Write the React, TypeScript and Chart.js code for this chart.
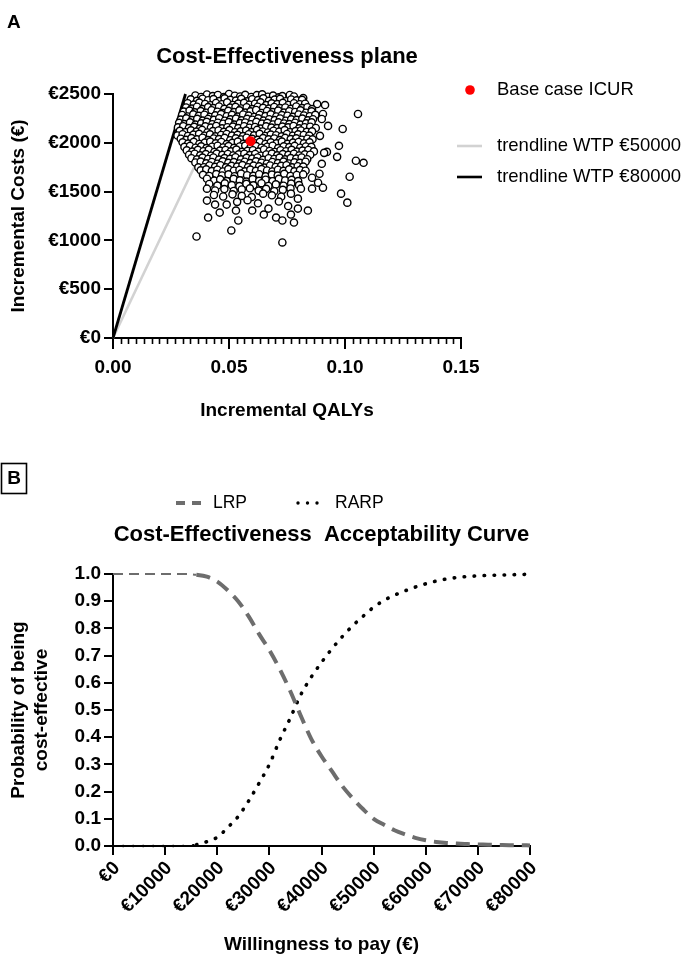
import React, { useEffect, useRef } from "react";
import { Chart, registerables } from "chart.js";

Chart.register(...registerables);

const FONT = "'Liberation Sans', Arial, Helvetica, sans-serif";

// ---------------- Panel A: cost-effectiveness plane ----------------
const qalyTicks = [0, 0.05, 0.1, 0.15];
const qalyMinorPerMajor = 15;
const costTicks = [0, 500, 1000, 1500, 2000, 2500];

const baseCaseQaly = [0.0593];
const baseCaseCost = [2015];

const wtp50kQaly = [0, 0.04];
const wtp50kCost = [0, 2000];
const wtp80kQaly = [0, 0.03125];
const wtp80kCost = [0, 2500];

// PSA iterations [incremental QALYs, incremental costs]
const psaSamples: [number, number][] = [
  [0.0355,2485],[0.038,2470],[0.0405,2495],[0.043,2478],[0.0452,2490],[0.0478,2468],[0.05,2500],[0.0525,2482],[0.0548,2475],[0.057,2492],[0.0596,2470],[0.062,2488],[0.0643,2497],[0.0668,2472],[0.069,2484],[0.0715,2466],[0.073,2478],[0.0762,2490],[0.078,2475],[0.082,2458],
  [0.0335,2445],[0.0362,2430],[0.0386,2452],[0.041,2436],[0.0433,2448],[0.0458,2428],[0.0481,2455],[0.0506,2440],[0.053,2432],[0.0553,2450],[0.0578,2425],[0.06,2446],[0.0625,2438],[0.0648,2455],[0.0672,2430],[0.0697,2442],[0.072,2450],[0.0745,2426],[0.0768,2444],[0.0792,2435],[0.0815,2440],
  [0.0322,2405],[0.0348,2392],[0.0372,2412],[0.0397,2398],[0.042,2385],[0.0444,2408],[0.0469,2395],[0.0492,2415],[0.0517,2388],[0.054,2402],[0.0565,2410],[0.0588,2390],[0.0612,2400],[0.0636,2414],[0.066,2386],[0.0684,2404],[0.0708,2396],[0.0732,2410],[0.0756,2388],[0.078,2405],[0.0805,2395],[0.0828,2400],[0.088,2397],[0.0914,2387],
  [0.0315,2362],[0.034,2350],[0.0362,2370],[0.0386,2345],[0.041,2366],[0.0433,2355],[0.0457,2372],[0.048,2348],[0.0505,2360],[0.0528,2368],[0.0552,2352],[0.0576,2365],[0.06,2345],[0.0624,2370],[0.0647,2358],[0.0672,2350],[0.0695,2367],[0.072,2355],[0.0743,2362],[0.0767,2348],[0.079,2372],[0.0815,2356],[0.0838,2364],[0.0858,2346],
  [0.0305,2320],[0.033,2330],[0.0353,2312],[0.0378,2325],[0.0402,2308],[0.0425,2334],[0.045,2318],[0.0474,2305],[0.0497,2328],[0.0522,2315],[0.0545,2332],[0.057,2310],[0.0593,2322],[0.0617,2336],[0.0641,2306],[0.0664,2326],[0.0689,2314],[0.0712,2330],[0.0737,2310],[0.076,2324],[0.0785,2316],[0.0808,2332],[0.0832,2308],[0.0856,2322],[0.0905,2295],[0.1056,2295],
  [0.0298,2285],[0.0322,2270],[0.0346,2292],[0.037,2276],[0.0394,2288],[0.0418,2265],[0.0441,2282],[0.0466,2294],[0.049,2272],[0.0513,2286],[0.0538,2268],[0.0561,2290],[0.0585,2278],[0.0609,2265],[0.0632,2288],[0.0657,2274],[0.068,2292],[0.0704,2270],[0.0728,2284],[0.0752,2277],[0.0776,2266],[0.08,2290],[0.0823,2280],[0.0848,2272],[0.0872,2286],
  [0.0292,2238],[0.0316,2250],[0.034,2232],[0.0363,2246],[0.0387,2228],[0.041,2244],[0.0435,2235],[0.0458,2252],[0.0482,2226],[0.0506,2240],[0.053,2248],[0.0554,2230],[0.0578,2245],[0.0601,2236],[0.0626,2250],[0.0649,2228],[0.0673,2242],[0.0697,2233],[0.072,2249],[0.0745,2226],[0.0768,2240],[0.0792,2235],[0.0816,2248],[0.084,2230],[0.0862,2242],[0.09,2244],
  [0.0285,2205],[0.0308,2192],[0.0332,2210],[0.0356,2186],[0.038,2200],[0.0404,2214],[0.0428,2190],[0.0452,2206],[0.0475,2195],[0.0499,2212],[0.0523,2186],[0.0547,2202],[0.057,2208],[0.0594,2190],[0.0618,2214],[0.0642,2196],[0.0665,2204],[0.069,2188],[0.0713,2210],[0.0737,2198],[0.076,2192],[0.0785,2206],[0.0808,2186],[0.0832,2200],[0.0856,2210],[0.0927,2173],
  [0.028,2158],[0.0303,2170],[0.0327,2150],[0.035,2164],[0.0374,2146],[0.0398,2168],[0.0422,2155],[0.0445,2172],[0.047,2148],[0.0493,2160],[0.0517,2166],[0.054,2150],[0.0565,2170],[0.0588,2154],[0.0612,2162],[0.0636,2146],[0.066,2168],[0.0683,2156],[0.0707,2150],[0.073,2166],[0.0755,2158],[0.0778,2172],[0.0802,2148],[0.0826,2160],[0.085,2165],[0.0874,2152],[0.099,2142],
  [0.0288,2122],[0.0312,2110],[0.0336,2128],[0.036,2115],[0.0384,2132],[0.0407,2106],[0.0431,2120],[0.0455,2126],[0.0478,2112],[0.0502,2130],[0.0526,2108],[0.055,2118],[0.0574,2125],[0.0597,2110],[0.0621,2132],[0.0645,2116],[0.0668,2106],[0.0692,2124],[0.0716,2114],[0.074,2130],[0.0763,2108],[0.0787,2120],[0.081,2126],[0.0835,2112],[0.0858,2118],
  [0.0278,2075],[0.03,2088],[0.0323,2070],[0.0347,2084],[0.0371,2092],[0.0395,2072],[0.0418,2086],[0.0442,2066],[0.0466,2080],[0.049,2090],[0.0513,2074],[0.0537,2082],[0.0561,2068],[0.0585,2088],[0.0608,2076],[0.0632,2092],[0.0656,2070],[0.068,2084],[0.0703,2078],[0.0727,2066],[0.075,2090],[0.0775,2072],[0.0798,2086],[0.0822,2080],[0.0846,2074],[0.0892,2071],
  [0.0292,2042],[0.0315,2030],[0.0338,2048],[0.0362,2036],[0.0386,2052],[0.041,2028],[0.0434,2044],[0.0457,2038],[0.0481,2050],[0.0505,2026],[0.0529,2046],[0.0552,2034],[0.0576,2052],[0.06,2040],[0.0624,2030],[0.0647,2048],[0.0671,2036],[0.0695,2044],[0.0719,2028],[0.0742,2050],[0.0766,2038],[0.079,2046],[0.0814,2032],[0.0838,2042],[0.086,2036],
  [0.03,2005],[0.0324,1992],[0.0348,2010],[0.0372,1988],[0.0396,2002],[0.0419,2012],[0.0443,1995],[0.0467,2008],[0.049,1986],[0.0514,2000],[0.0538,2012],[0.0562,1990],[0.0585,2006],[0.061,1996],[0.0633,2010],[0.0657,1988],[0.068,2004],[0.0705,1994],[0.0728,2012],[0.0752,1990],[0.0776,2002],[0.08,2008],[0.0823,1994],[0.0847,2004],[0.0974,1969],
  [0.0308,1958],[0.0332,1968],[0.0356,1950],[0.038,1964],[0.0403,1946],[0.0427,1960],[0.0451,1970],[0.0475,1952],[0.0498,1966],[0.0522,1948],[0.0546,1962],[0.057,1972],[0.0593,1954],[0.0617,1966],[0.064,1950],[0.0665,1960],[0.0688,1970],[0.0712,1946],[0.0736,1964],[0.076,1956],[0.0783,1968],[0.0807,1950],[0.0831,1962],[0.0855,1958],
  [0.0318,1922],[0.0342,1910],[0.0366,1928],[0.039,1914],[0.0413,1930],[0.0437,1906],[0.0461,1920],[0.0485,1926],[0.0508,1912],[0.0532,1930],[0.0556,1908],[0.058,1918],[0.0603,1924],[0.0627,1910],[0.0651,1932],[0.0675,1916],[0.0698,1906],[0.0722,1924],[0.0746,1914],[0.077,1928],[0.0793,1910],[0.0817,1920],[0.0842,1926],[0.0866,1912],[0.0922,1907],[0.091,1897],
  [0.0328,1878],[0.0352,1888],[0.0376,1872],[0.04,1884],[0.0423,1868],[0.0447,1890],[0.0471,1876],[0.0495,1886],[0.0518,1870],[0.0542,1882],[0.0566,1888],[0.059,1874],[0.0613,1886],[0.0637,1868],[0.0661,1880],[0.0685,1890],[0.0708,1872],[0.0732,1884],[0.0756,1876],[0.078,1888],[0.0803,1870],[0.0827,1882],[0.085,1878],[0.0966,1856],
  [0.0338,1842],[0.0362,1830],[0.0386,1848],[0.041,1834],[0.0433,1850],[0.0457,1828],[0.0481,1844],[0.0505,1836],[0.0528,1852],[0.0552,1830],[0.0576,1846],[0.06,1838],[0.0623,1850],[0.0647,1826],[0.0671,1842],[0.0695,1834],[0.0718,1848],[0.0742,1830],[0.0766,1844],[0.079,1838],[0.0813,1850],[0.0837,1832],[0.1047,1816],[0.108,1795],
  [0.0355,1798],[0.0378,1808],[0.0402,1790],[0.0426,1804],[0.045,1786],[0.0473,1810],[0.0497,1794],[0.0521,1802],[0.0545,1788],[0.0568,1806],[0.0592,1792],[0.0616,1810],[0.064,1796],[0.0663,1786],[0.0687,1804],[0.0711,1792],[0.0735,1808],[0.0758,1788],[0.0782,1800],[0.0806,1794],[0.083,1806],[0.09,1785],
  [0.0368,1748],[0.0392,1750],[0.0416,1768],[0.044,1754],[0.0463,1770],[0.0487,1748],[0.0511,1764],[0.0535,1756],[0.0558,1772],[0.0582,1750],[0.0606,1766],[0.063,1758],[0.0653,1746],[0.0677,1768],[0.0701,1752],[0.0725,1764],[0.0748,1770],[0.0772,1748],[0.0796,1760],[0.082,1756],
  [0.0378,1718],[0.0402,1728],[0.0426,1710],[0.045,1724],[0.0474,1706],[0.0497,1730],[0.0521,1714],[0.0545,1722],[0.0569,1708],[0.0592,1726],[0.0616,1712],[0.064,1730],[0.0664,1716],[0.0687,1706],[0.0711,1724],[0.0735,1712],[0.0759,1728],[0.0782,1708],[0.0806,1720],[0.083,1714],
  [0.0388,1672],[0.0415,1660],[0.0445,1680],[0.047,1665],[0.0498,1676],[0.0524,1658],[0.0552,1684],[0.0578,1668],[0.0605,1662],[0.063,1678],[0.0658,1656],[0.0685,1674],[0.071,1664],[0.0738,1682],[0.0765,1660],[0.0792,1670],[0.082,1676],[0.089,1683],[0.0858,1642],[0.102,1652],
  [0.0405,1632],[0.0436,1612],[0.0462,1625],[0.049,1608],[0.052,1630],[0.0547,1615],[0.0575,1602],[0.0602,1628],[0.063,1610],[0.0658,1622],[0.0688,1606],[0.0715,1630],[0.0742,1614],[0.077,1620],[0.0798,1608],
  [0.0415,1578],[0.045,1562],[0.0482,1584],[0.0512,1566],[0.0545,1556],[0.0575,1580],[0.0605,1564],[0.064,1586],[0.067,1558],[0.0702,1574],[0.0735,1560],[0.0768,1582],[0.0802,1566],[0.0884,1591],[0.0905,1540],[0.081,1530],[0.0858,1530],
  [0.0405,1530],[0.044,1512],[0.048,1526],[0.052,1506],[0.0555,1522],[0.059,1534],[0.0628,1510],[0.066,1528],[0.0695,1504],[0.0732,1518],[0.0765,1532],[0.0647,1479],[0.0767,1479],
  [0.0435,1465],[0.0475,1450],[0.0515,1472],[0.0555,1456],[0.0598,1444],[0.0685,1462],[0.0725,1448],[0.0797,1428],[0.0983,1479],[0.101,1387],
  [0.0405,1408],[0.044,1367],[0.049,1367],[0.0535,1395],[0.058,1412],[0.0625,1380],[0.067,1326],[0.0715,1398],[0.0755,1352],[0.0797,1326],[0.084,1306],[0.06,1306],[0.046,1285],[0.041,1234],[0.053,1306],[0.054,1204],[0.065,1265],[0.0703,1234],[0.073,1204],[0.0767,1265],[0.078,1183],[0.051,1102],[0.036,1040],[0.073,979],
];

// ---------------- Panel B: CEAC ----------------
const wtpThresholds = [
  0, 2000, 4000, 6000, 8000, 10000, 12000, 14000, 16000, 18000, 20000, 22000, 24000, 26000, 28000, 30000, 32000, 34000, 36000, 38000, 40000,
  42000, 44000, 46000, 48000, 50000, 52000, 54000, 56000, 58000, 60000, 62000, 64000, 66000, 68000, 70000, 72000, 74000, 76000, 78000, 80000,
];
const lrpProbability = [
  1.0, 1.0, 1.0, 1.0, 1.0, 1.0, 1.0, 1.0, 0.997, 0.99, 0.972, 0.94, 0.9, 0.845, 0.78, 0.72, 0.65, 0.57, 0.48, 0.395, 0.33,
  0.275, 0.22, 0.175, 0.135, 0.1, 0.078, 0.058, 0.043, 0.03, 0.021, 0.015, 0.011, 0.009, 0.007, 0.006, 0.005, 0.004, 0.003, 0.003, 0.002,
];
const rarpProbability = [
  0, 0, 0, 0, 0, 0, 0, 0.001, 0.005, 0.016, 0.032, 0.068, 0.108, 0.165, 0.23, 0.3, 0.39, 0.47, 0.555, 0.62, 0.675,
  0.725, 0.77, 0.81, 0.845, 0.878, 0.903, 0.922, 0.938, 0.952, 0.964, 0.974, 0.982, 0.987, 0.991, 0.993, 0.995, 0.996, 0.997, 0.998, 0.999,
];
const wtpTicks = [0, 10000, 20000, 30000, 40000, 50000, 60000, 70000, 80000];
const probabilityTicks = [0, 0.1, 0.2, 0.3, 0.4, 0.5, 0.6, 0.7, 0.8, 0.9, 1.0];

const LRP_GREY = "#6d6d6d";
const LIGHT_GREY = "#d2d2d2";

const tickFont = { family: FONT, size: 19, weight: "bold" as const };
const axisTitleFont = { family: FONT, size: 19, weight: "bold" as const, lineHeight: 1.2 };

export default function App() {
  const refA = useRef<HTMLCanvasElement>(null);
  const refB = useRef<HTMLCanvasElement>(null);

  useEffect(() => {
    Chart.defaults.font.family = FONT;
    Chart.defaults.color = "#000";

    const minorTicks = {
      id: "minorTicks",
      afterDraw(chart: any) {
        const xs = chart.scales.x;
        const ctx = chart.ctx;
        const step = (qalyTicks[1] - qalyTicks[0]) / qalyMinorPerMajor;
        const n = Math.round((qalyTicks[qalyTicks.length - 1] - qalyTicks[0]) / step);
        ctx.save();
        ctx.strokeStyle = "#000";
        ctx.lineWidth = 1.6;
        for (let k = 1; k < n; k++) {
          if (k % qalyMinorPerMajor === 0) continue;
          const px = Math.round(xs.getPixelForValue(qalyTicks[0] + k * step)) + 0.5;
          ctx.beginPath();
          ctx.moveTo(px, xs.top);
          ctx.lineTo(px, xs.top + 6);
          ctx.stroke();
        }
        ctx.restore();
      },
    };

    const decorA = {
      id: "decorA",
      afterDraw(chart: any) {
        const ctx = chart.ctx;
        const ca = chart.chartArea;
        const ds = chart.data.datasets;
        ctx.save();
        ctx.fillStyle = "#000";
        ctx.textBaseline = "middle";
        ctx.textAlign = "left";
        ctx.font = `bold 19px ${FONT}`;
        ctx.fillText("A", 7, 23);
        ctx.textAlign = "center";
        ctx.font = `bold 22px ${FONT}`;
        ctx.fillText("Cost-Effectiveness plane", (ca.left + ca.right) / 2, 57);
        // legend
        ctx.textAlign = "left";
        ctx.font = `18.5px ${FONT}`;
        ctx.fillStyle = "#ff0000";
        ctx.beginPath();
        ctx.arc(470, 90, 4.8, 0, Math.PI * 2);
        ctx.fill();
        ctx.fillStyle = "#000";
        ctx.fillText(ds[0].label, 497, 90);
        ctx.lineWidth = 2.6;
        ctx.strokeStyle = LIGHT_GREY;
        ctx.beginPath();
        ctx.moveTo(457, 146);
        ctx.lineTo(482, 146);
        ctx.stroke();
        ctx.fillText(ds[2].label, 497, 146);
        ctx.strokeStyle = "#000";
        ctx.beginPath();
        ctx.moveTo(457, 177);
        ctx.lineTo(482, 177);
        ctx.stroke();
        ctx.fillText(ds[3].label, 497, 177);
        ctx.restore();
      },
    };

    const chartA = new Chart(refA.current as HTMLCanvasElement, {
      type: "scatter",
      data: {
        datasets: [
          {
            label: "Base case ICUR",
            data: baseCaseQaly.map((q, i) => ({ x: q, y: baseCaseCost[i] })),
            pointRadius: 5,
            pointBackgroundColor: "#ff0000",
            pointBorderColor: "#ff0000",
            pointBorderWidth: 0,
            order: 0,
            clip: false,
          } as any,
          {
            label: "PSA",
            data: psaSamples.map(([q, c]) => ({ x: q, y: c })),
            pointRadius: 3.6,
            pointBorderWidth: 1.4,
            pointBackgroundColor: "#ffffff",
            pointBorderColor: "#000000",
            order: 1,
            clip: false,
          },
          {
            type: "line",
            label: "trendline WTP €50000",
            data: wtp50kQaly.map((q, i) => ({ x: q, y: wtp50kCost[i] })),
            borderColor: LIGHT_GREY,
            borderWidth: 2.6,
            pointRadius: 0,
            showLine: true,
            order: 3,
            clip: false,
          } as any,
          {
            type: "line",
            label: "trendline WTP €80000",
            data: wtp80kQaly.map((q, i) => ({ x: q, y: wtp80kCost[i] })),
            borderColor: "#000",
            borderWidth: 2.8,
            pointRadius: 0,
            showLine: true,
            order: 2,
            clip: false,
          } as any,
        ],
      },
      options: {
        responsive: false,
        animation: false,
        events: [],
        layout: { padding: { left: 0, right: 224, top: 94, bottom: 0 } },
        plugins: { legend: { display: false }, tooltip: { enabled: false }, title: { display: false } },
        scales: {
          x: {
            type: "linear",
            min: qalyTicks[0],
            max: qalyTicks[qalyTicks.length - 1],
            afterBuildTicks: (s: any) => {
              s.ticks = qalyTicks.map((v) => ({ value: v }));
            },
            afterFit: (s: any) => {
              s.height = 117;
            },
            grid: { drawOnChartArea: false, drawTicks: true, tickLength: 11, tickColor: "#000", tickWidth: 2, color: "#000", lineWidth: 2 },
            border: { display: true, color: "#000", width: 2 },
            ticks: {
              color: "#000",
              font: tickFont,
              padding: 7,
              autoSkip: false,
              maxRotation: 0,
              callback: (v: any) => Number(v).toFixed(2),
            },
            title: { display: true, text: "Incremental QALYs", color: "#000", font: axisTitleFont, padding: { top: 0, bottom: 33 } },
          },
          y: {
            type: "linear",
            min: costTicks[0],
            max: costTicks[costTicks.length - 1],
            afterBuildTicks: (s: any) => {
              s.ticks = costTicks.map((v) => ({ value: v }));
            },
            afterFit: (s: any) => {
              s.width = 113;
            },
            grid: { drawOnChartArea: false, drawTicks: true, tickLength: 9, tickColor: "#000", tickWidth: 2, color: "#000", lineWidth: 2 },
            border: { display: true, color: "#000", width: 2 },
            ticks: { color: "#000", font: tickFont, padding: 3, autoSkip: false, callback: (v: any) => "€" + v },
            title: { display: true, text: "Incremental Costs (€)", color: "#000", font: axisTitleFont, padding: { top: 7, bottom: 0 } },
          },
        },
      } as any,
      plugins: [minorTicks, decorA],
    });

    const decorB = {
      id: "decorB",
      afterDraw(chart: any) {
        const ctx = chart.ctx;
        const ca = chart.chartArea;
        const ds = chart.data.datasets;
        ctx.save();
        ctx.strokeStyle = "#000";
        ctx.lineWidth = 1.6;
        ctx.strokeRect(1.5, 8.5, 25, 30);
        ctx.fillStyle = "#000";
        ctx.textBaseline = "middle";
        ctx.textAlign = "center";
        ctx.font = `bold 19px ${FONT}`;
        ctx.fillText("B", 14, 23.5);
        ctx.font = `bold 22px ${FONT}`;
        ctx.fillText("Cost-Effectiveness  Acceptability Curve", (ca.left + ca.right) / 2, 80);
        // legend
        ctx.textAlign = "left";
        ctx.font = `17.5px ${FONT}`;
        ctx.strokeStyle = LRP_GREY;
        ctx.lineWidth = 4;
        ctx.setLineDash([9, 7]);
        ctx.beginPath();
        ctx.moveTo(176, 48);
        ctx.lineTo(201, 48);
        ctx.stroke();
        ctx.setLineDash([]);
        ctx.fillText(ds[0].label, 213, 48);
        ctx.fillStyle = "#000";
        for (const dx of [298, 307.5, 317]) {
          ctx.beginPath();
          ctx.arc(dx, 48, 1.7, 0, Math.PI * 2);
          ctx.fill();
        }
        ctx.fillText(ds[1].label, 335, 48);
        ctx.restore();
      },
    };

    const chartB = new Chart(refB.current as HTMLCanvasElement, {
      type: "line",
      data: {
        datasets: [
          {
            label: "LRP",
            data: wtpThresholds.map((w, i) => ({ x: w, y: lrpProbability[i] })),
            borderColor: LRP_GREY,
            borderWidth: 4,
            borderDash: [14, 8],
            pointRadius: 0,
            cubicInterpolationMode: "monotone",
            clip: false,
            segment: {
              borderWidth: (c: any) => (c.p1.parsed.x <= 16000 ? 2 : 4),
              borderDash: (c: any) => (c.p1.parsed.x <= 16000 ? [10, 6] : [14, 8]),
            },
          } as any,
          {
            label: "RARP",
            data: wtpThresholds.map((w, i) => ({ x: w, y: rarpProbability[i] })),
            borderColor: "#000",
            borderWidth: 3.6,
            borderDash: [0.5, 9.5],
            borderCapStyle: "round",
            pointRadius: 0,
            cubicInterpolationMode: "monotone",
            clip: false,
            segment: {
              borderWidth: (c: any) => (c.p1.parsed.x <= 16000 ? 2.4 : 3.6),
            },
          } as any,
        ],
      },
      options: {
        responsive: false,
        animation: false,
        events: [],
        layout: { padding: { left: 0, right: 155, top: 119, bottom: 0 } },
        plugins: { legend: { display: false }, tooltip: { enabled: false }, title: { display: false } },
        scales: {
          x: {
            type: "linear",
            min: wtpTicks[0],
            max: wtpTicks[wtpTicks.length - 1],
            afterBuildTicks: (s: any) => {
              s.ticks = wtpTicks.map((v) => ({ value: v }));
            },
            afterFit: (s: any) => {
              s.height = 112;
            },
            grid: { drawOnChartArea: false, drawTicks: true, tickLength: 9, tickColor: "#000", tickWidth: 2, color: "#000", lineWidth: 2 },
            border: { display: true, color: "#000", width: 2 },
            ticks: {
              color: "#000",
              font: tickFont,
              padding: 2,
              labelOffset: 4,
              autoSkip: false,
              minRotation: 45,
              maxRotation: 45,
              callback: (v: any) => "€" + v,
            },
            title: { display: true, text: "Willingness to pay (€)", color: "#000", font: axisTitleFont, padding: { top: 0, bottom: 1.6 } },
          },
          y: {
            type: "linear",
            min: probabilityTicks[0],
            max: probabilityTicks[probabilityTicks.length - 1],
            afterBuildTicks: (s: any) => {
              s.ticks = probabilityTicks.map((v) => ({ value: v }));
            },
            afterFit: (s: any) => {
              s.width = 113;
            },
            grid: { drawOnChartArea: false, drawTicks: true, tickLength: 9, tickColor: "#000", tickWidth: 2, color: "#000", lineWidth: 2 },
            border: { display: true, color: "#000", width: 2 },
            ticks: { color: "#000", font: tickFont, padding: 3, autoSkip: false, callback: (v: any) => Number(v).toFixed(1) },
            title: {
              display: true,
              text: ["Probability of being", "cost-effective"],
              color: "#000",
              font: axisTitleFont,
              padding: { top: 7.6, bottom: 0 },
            },
          },
        },
      } as any,
      plugins: [decorB],
    });

    return () => {
      chartA.destroy();
      chartB.destroy();
    };
  }, []);

  return (
    <div style={{ position: "absolute", left: 0, top: 0, width: 685, height: 958, background: "#fff" }}>
      <canvas ref={refA} width={685} height={455} style={{ position: "absolute", left: 0, top: 0 }} />
      <canvas ref={refB} width={685} height={503} style={{ position: "absolute", left: 0, top: 455 }} />
    </div>
  );
}
